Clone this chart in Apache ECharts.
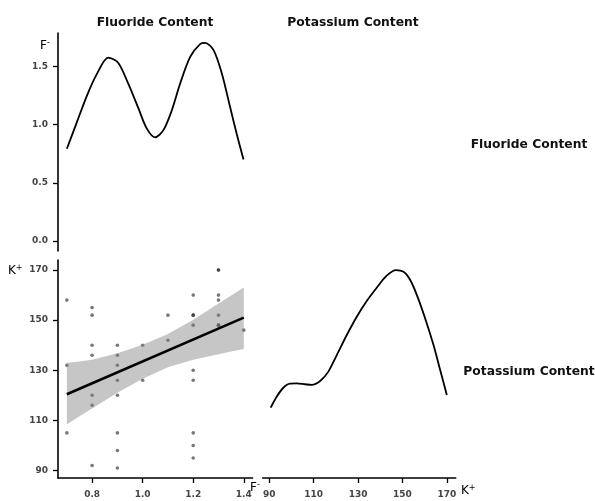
<!DOCTYPE html>
<html><head><meta charset="utf-8">
<script src="https://cdn.jsdelivr.net/npm/echarts@6/dist/echarts.min.js"></script>
<style>html,body{margin:0;padding:0;background:#fff}#c{width:595px;height:501px}</style>
</head><body><div id="c"></div>
<script>
// Fluoride density (diag panel, top-left)
var fluorideDensity = [
  [0.70,0.792],[0.738,1.01],[0.778,1.24],[0.818,1.43],[0.864,1.574],[0.903,1.53],
  [0.943,1.35],[0.983,1.14],[1.016,0.967],[1.049,0.89],[1.082,0.952],[1.115,1.12],
  [1.148,1.35],[1.188,1.58],[1.227,1.69],[1.247,1.70],[1.280,1.64],[1.313,1.44],
  [1.346,1.15],[1.372,0.92],[1.399,0.70]
];
// Potassium density (diag panel, bottom-right), relative units
var potassiumDensity = [
  [90.6,32.3],[93.3,37.3],[96.3,41.4],[99.3,43.3],[102.3,43.4],[106.1,43.0],[109.1,42.7],
  [112.9,44.5],[116.6,48.8],[120.4,56.4],[124.9,65.6],[129.4,74.0],[133.9,81.2],
  [138.4,87.3],[142.9,92.8],[147.1,95.4],[150.5,94.6],[153.5,90.8],[156.5,83.9],
  [160.2,73.3],[164.0,61.0],[167.0,49.5],[170.0,38.1]
];
// Scatter: fluoride vs potassium
var scatterPoints = [
  [0.7,158],[0.7,132],[0.7,105],
  [0.8,155],[0.8,152],[0.8,140],[0.8,136],[0.8,120],[0.8,116],[0.8,92],
  [0.9,140],[0.9,136],[0.9,132],[0.9,126],[0.9,120],[0.9,105],[0.9,98],[0.9,91],
  [1.0,140],[1.0,126],
  [1.1,152],[1.1,142],
  [1.2,160],[1.2,152],[1.2,152],[1.2,148],[1.2,130],[1.2,126],[1.2,105],[1.2,100],[1.2,95],
  [1.3,170],[1.3,170],[1.3,160],[1.3,158],[1.3,152],[1.3,148],[1.3,148],
  [1.4,146]
];
var fitLine = [[0.7,120.4],[1.4,151.0]];
var bandX     = [0.7,  0.75, 0.8,  0.9,  1.0,  1.1,  1.2,  1.3,  1.35, 1.4];
var bandUpper = [133.0,133.5,134.2,136.8,140.2,144.5,150.2,156.6,159.8,163.0];
var bandLower = [108.4,111.6,114.7,121.0,126.6,131.2,134.2,136.4,137.5,138.5];

var fTicks = [0.0,0.5,1.0,1.5];
var fxTicks = [0.8,1.0,1.2,1.4];
var kTicks = [90,110,130,150,170];
var stripLabels = ['Fluoride Content','Potassium Content'];

var chart = echarts.init(document.getElementById('c'));
var FONT = 'DejaVu Sans, sans-serif';
var axisLineS = {show:true, lineStyle:{color:'#000', width:1.6}};
var tickS = {show:true, length:5, lineStyle:{color:'#000', width:1.3}};
function labS(m){ return {color:'#444', fontSize:9, fontWeight:'bold', fontFamily:FONT, margin:m}; }
var supRich = {
  b:{fontSize:12, color:'#111', fontFamily:FONT},
  s:{fontSize:8, color:'#111', fontFamily:FONT, verticalAlign:'top', padding:[0,0,6,0]}
};
function strip(text, x, y) {
  return {type:'text', x:x, y:y, style:{text:text, align:'center', verticalAlign:'middle',
    fontSize:12.3, fontWeight:'bold', fill:'#111', fontFamily:FONT}};
}
var option = {
  animation:false,
  backgroundColor:'#fff',
  graphic:[
    strip(stripLabels[0], 155, 23),
    strip(stripLabels[1], 353, 23),
    strip(stripLabels[0], 529, 145),
    strip(stripLabels[1], 529, 372),
    {type:'text', left:40, top:39, style:{text:'{b|F}{s|-}', rich:supRich}},
    {type:'text', left:8, top:264, style:{text:'{b|K}{s|+}', rich:supRich}},
    {type:'text', left:250, top:481, style:{text:'{b|F}{s|-}', rich:supRich}},
    {type:'text', left:461, top:484, style:{text:'{b|K}{s|+}', rich:supRich}}
  ],
  grid:[
    {left:58, top:33, width:194.6, height:218},
    {left:58, top:260, width:194.6, height:218},
    {left:262.7, top:260, width:193, height:218}
  ],
  xAxis:[
    {type:'value', gridIndex:0, min:0.665, max:1.435, show:false, splitLine:{show:false}},
    {type:'value', gridIndex:1, min:0.665, max:1.435, splitLine:{show:false},
      axisLine:axisLineS, axisTick:Object.assign({customValues:fxTicks}, tickS),
      axisLabel:Object.assign({customValues:fxTicks, formatter:function(v){return v.toFixed(1);}}, labS(12))},
    {type:'value', gridIndex:2, min:87, max:174, splitLine:{show:false},
      axisLine:axisLineS, axisTick:Object.assign({customValues:kTicks}, tickS),
      axisLabel:Object.assign({customValues:kTicks}, labS(12))}
  ],
  yAxis:[
    {type:'value', gridIndex:0, min:-0.085, max:1.785, splitLine:{show:false},
      axisLine:axisLineS, axisTick:Object.assign({customValues:fTicks}, tickS),
      axisLabel:Object.assign({customValues:fTicks, formatter:function(v){return v.toFixed(1);}}, labS(10))},
    {type:'value', gridIndex:1, min:87, max:174, splitLine:{show:false},
      axisLine:axisLineS, axisTick:Object.assign({customValues:kTicks}, tickS),
      axisLabel:Object.assign({customValues:kTicks}, labS(10))},
    {type:'value', gridIndex:2, min:0, max:100, show:false, splitLine:{show:false}}
  ],
  series:[
    {type:'line', xAxisIndex:0, yAxisIndex:0, data:fluorideDensity, smooth:0.3, showSymbol:false,
      lineStyle:{color:'#000', width:1.8}},
    {type:'scatter', xAxisIndex:1, yAxisIndex:1, data:scatterPoints, symbolSize:3.6,
      itemStyle:{color:'rgba(30,30,30,0.75)'}, z:2},
    {type:'custom', xAxisIndex:1, yAxisIndex:1, data:[[0.7,120]], z:3,
      renderItem:function(params, api){
        var pts = [];
        for (var i=0;i<bandX.length;i++) pts.push(api.coord([bandX[i], bandUpper[i]]));
        for (var j=bandX.length-1;j>=0;j--) pts.push(api.coord([bandX[j], bandLower[j]]));
        return {type:'polygon', shape:{points:pts}, style:{fill:'rgba(128,128,128,0.45)'}};
      }},
    {type:'line', xAxisIndex:1, yAxisIndex:1, data:fitLine, showSymbol:false, z:4,
      lineStyle:{color:'#000', width:2.6}},
    {type:'line', xAxisIndex:2, yAxisIndex:2, data:potassiumDensity, smooth:0.3, showSymbol:false,
      lineStyle:{color:'#000', width:1.8}}
  ]
};
chart.setOption(option);
</script></body></html>
